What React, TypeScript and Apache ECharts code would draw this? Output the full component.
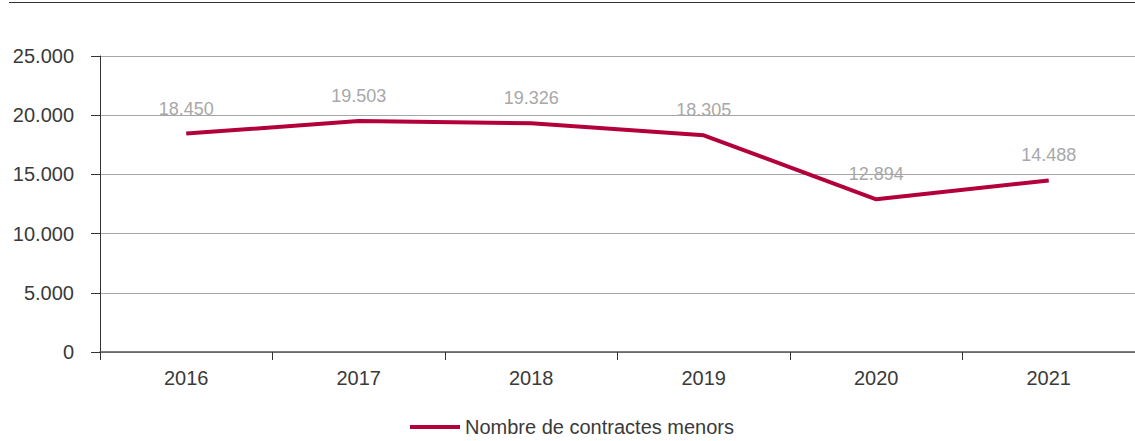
import React, { useEffect, useRef } from "react";
import * as echarts from "echarts";

const years = ["2016", "2017", "2018", "2019", "2020", "2021"];
const contractes = [18450, 19503, 19326, 18305, 12894, 14488];
const seriesName = "Nombre de contractes menors";

const fmt = (v: number) => {
  const s = String(Math.round(v));
  return s.replace(/\B(?=(\d{3})+(?!\d))/g, ".");
};

export default function App() {
  const ref = useRef<HTMLDivElement>(null);
  useEffect(() => {
    document.body.style.margin = "0";
    const chart = echarts.init(ref.current!, null, { renderer: "svg" });
    const font = "'Liberation Sans', Arial, Helvetica, sans-serif";
    chart.setOption({
      animation: false,
      textStyle: { fontFamily: font },
      graphic: [
        {
          type: "line",
          shape: { x1: 9, y1: 2.5, x2: 1135, y2: 2.5 },
          style: { stroke: "#333", lineWidth: 1 },
        },
      ],
      grid: { left: 100, right: -5, top: 56, bottom: 89 },
      legend: {
        top: 412,
        left: 405,
        data: [seriesName],
        itemWidth: 50,
        itemHeight: 4,
        itemGap: 10,
        icon: "rect",
        textStyle: { fontSize: 20, color: "#3a3a3a", fontFamily: font },
      },
      xAxis: {
        type: "category",
        data: years,
        boundaryGap: true,
        axisLine: { lineStyle: { color: "#555", width: 1.5 } },
        axisTick: { show: true, length: 8, lineStyle: { color: "#333" } },
        axisLabel: { fontSize: 20, color: "#3a3a3a", margin: 16, fontFamily: font },
        splitLine: { show: false },
      },
      yAxis: {
        type: "value",
        min: 0,
        max: 25000,
        interval: 5000,
        axisLine: { show: true, lineStyle: { color: "#333", width: 1 } },
        axisTick: { show: true, length: 9, lineStyle: { color: "#333" } },
        axisLabel: {
          fontSize: 20,
          color: "#3a3a3a",
          margin: 26,
          fontFamily: font,
          formatter: (v: number) => fmt(v),
        },
        splitLine: { show: true, lineStyle: { color: "#a6a6a6", width: 1 } },
      },
      series: [
        {
          name: seriesName,
          type: "line",
          data: contractes,
          symbol: "circle",
          symbolSize: 0,
          showSymbol: true,
          lineStyle: { color: "#b3003a", width: 4 },
          itemStyle: { color: "#b3003a" },
          label: {
            show: true,
            position: "top",
            distance: 16,
            fontSize: 18,
            color: "#a8a8a8",
            fontFamily: font,
            formatter: (p: any) => fmt(p.value),
          },
        },
      ],
    });
    return () => chart.dispose();
  }, []);
  return <div ref={ref} style={{ width: 1135, height: 441 }} />;
}
